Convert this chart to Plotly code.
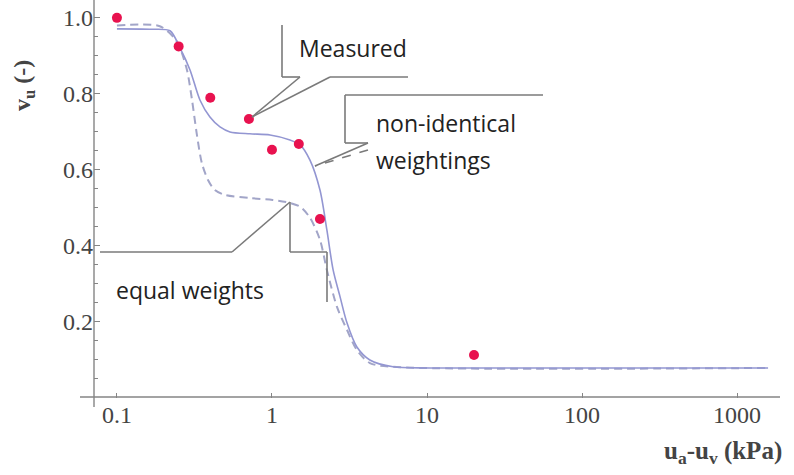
import plotly.graph_objects as go

# ---------------- data ----------------
meas_x = [0.1, 0.25, 0.40, 0.71, 1.0, 1.49, 2.04, 20.1]
meas_y = [1.0, 0.925, 0.79, 0.734, 0.653, 0.668, 0.471, 0.113]

nonid_x = [0.1, 0.163, 0.22, 0.255, 0.296, 0.343, 0.398, 0.462, 0.536, 0.721, 0.971,
           1.306, 1.517, 1.758, 2.04, 2.26, 2.48, 2.75, 3.05, 3.53, 4.28, 6.04, 10.5, 1585]
nonid_y = [0.971, 0.970, 0.966, 0.921, 0.863, 0.784, 0.739, 0.713, 0.700, 0.695, 0.692,
           0.679, 0.666, 0.626, 0.547, 0.442, 0.337, 0.266, 0.197, 0.134, 0.100, 0.082, 0.079, 0.079]

equal_x = [0.1, 0.189, 0.237, 0.255, 0.283, 0.305, 0.328, 0.353, 0.386, 0.428, 0.498, 0.721,
           1.01, 1.31, 1.52, 1.76, 2.04, 2.26, 2.63, 3.05, 3.53, 4.28, 6.04, 1585]
equal_y = [0.98, 0.978, 0.945, 0.921, 0.863, 0.784, 0.692, 0.618, 0.574, 0.547, 0.534, 0.526,
           0.521, 0.513, 0.503, 0.474, 0.416, 0.337, 0.239, 0.179, 0.126, 0.092, 0.082, 0.079]

x_ticks = [0.1, 1, 10, 100, 1000]
x_ticktext = ["0.1", "1", "10", "100", "1000"]
y_ticks = [0.2, 0.4, 0.6, 0.8, 1.0]
y_ticktext = ["0.2", "0.4", "0.6", "0.8", "1.0"]
y_minor = [0.05, 0.1, 0.15, 0.25, 0.3, 0.35, 0.45, 0.5, 0.55, 0.65, 0.7, 0.75, 0.85, 0.9, 0.95, 1.05]

# ---------------- layout geometry ----------------
W, H = 794, 475
L, R, T, B = 94, 14, 0, 77
PW, PH = W - L - R, H - T - B


def px(x):
    return (x - L) / PW


def py(y):
    return (H - B - y) / PH


AXC = "#858585"
CALL = "#7a7a7a"

fig = go.Figure()

fig.add_trace(go.Scatter(x=equal_x, y=equal_y, mode="lines",
                         line=dict(color="#a2a5c8", width=2, dash="8px,5px", shape="spline", smoothing=0.8),
                         showlegend=False, hoverinfo="skip"))
fig.add_trace(go.Scatter(x=nonid_x, y=nonid_y, mode="lines",
                         line=dict(color="#9396d2", width=1.6, shape="spline", smoothing=0.8),
                         showlegend=False, hoverinfo="skip"))
fig.add_trace(go.Scatter(x=meas_x, y=meas_y, mode="markers",
                         marker=dict(color="#e8124f", size=10),
                         showlegend=False))

shapes = []


def seg(x0, y0, x1, y1, color=CALL, width=1.6, dash="solid"):
    shapes.append(dict(type="line", xref="paper", yref="paper",
                       x0=px(x0), y0=py(y0), x1=px(x1), y1=py(y1),
                       line=dict(color=color, width=width, dash=dash)))


# axis extensions (Mathematica-style crossing axes)
seg(80, 397, 780, 397, color=AXC, width=1.4)
seg(94, 0, 94, 407, color=AXC, width=1.4)

# "Measured" callout
seg(282, 25, 282, 77)
seg(282, 77, 300, 77)
seg(300, 77, 252, 117)
seg(252, 117, 330, 77)
seg(330, 77, 408, 77)

# "non-identical weightings" callout
seg(345, 95, 543, 95)
seg(345, 95, 345, 143)
seg(345, 143, 368, 143)
seg(368, 143, 315, 166)
seg(368, 150, 315, 166, dash="dash")

# "equal weights" callout
seg(100, 252, 232, 252)
seg(232, 252, 290, 202)
seg(290, 202, 290, 252)
seg(290, 252, 327, 252)
seg(327, 252, 327, 302)

annotations = []


def txt(text, x, y, size=23, xanchor="left", font="Open Sans", color="#222", angle=0):
    annotations.append(dict(text=text, x=px(x), y=py(y), xref="paper", yref="paper",
                            xanchor=xanchor, yanchor="middle", showarrow=False,
                            textangle=angle,
                            font=dict(family=font, size=size, color=color)))


txt("Measured", 297, 48)
txt("non-identical", 374, 123)
txt("weightings", 374, 160)
txt("equal weights", 114, 290)
txt("<b>u<sub>a</sub>-u<sub>v</sub> (kPa)</b>", 784, 452, size=25, xanchor="right",
    font="Liberation Serif", color="#444")
txt("<b>v<sub>u</sub> (-)</b>", 24, 86, size=24, xanchor="center",
    font="Liberation Serif", color="#444", angle=-90)

fig.update_layout(
    width=W, height=H,
    margin=dict(l=L, r=R, t=T, b=B),
    paper_bgcolor="white", plot_bgcolor="white",
    shapes=shapes, annotations=annotations,
    xaxis=dict(type="log", range=[-1.148, 3.277], showgrid=False, zeroline=False,
               showline=False, tickvals=x_ticks, ticktext=x_ticktext,
               ticks="inside", ticklen=5, tickcolor=AXC, tickwidth=1,
               tickfont=dict(family="Liberation Serif", size=24, color="#444")),
    yaxis=dict(range=[0, 1.047], showgrid=False, zeroline=False, showline=False,
               tickvals=y_ticks, ticktext=y_ticktext,
               ticks="inside", ticklen=6, tickcolor=AXC, tickwidth=1,
               minor=dict(tickvals=y_minor, ticks="inside", ticklen=4, tickcolor=AXC),
               tickfont=dict(family="Liberation Serif", size=24, color="#444")),
)

fig.write_html("out.html")
